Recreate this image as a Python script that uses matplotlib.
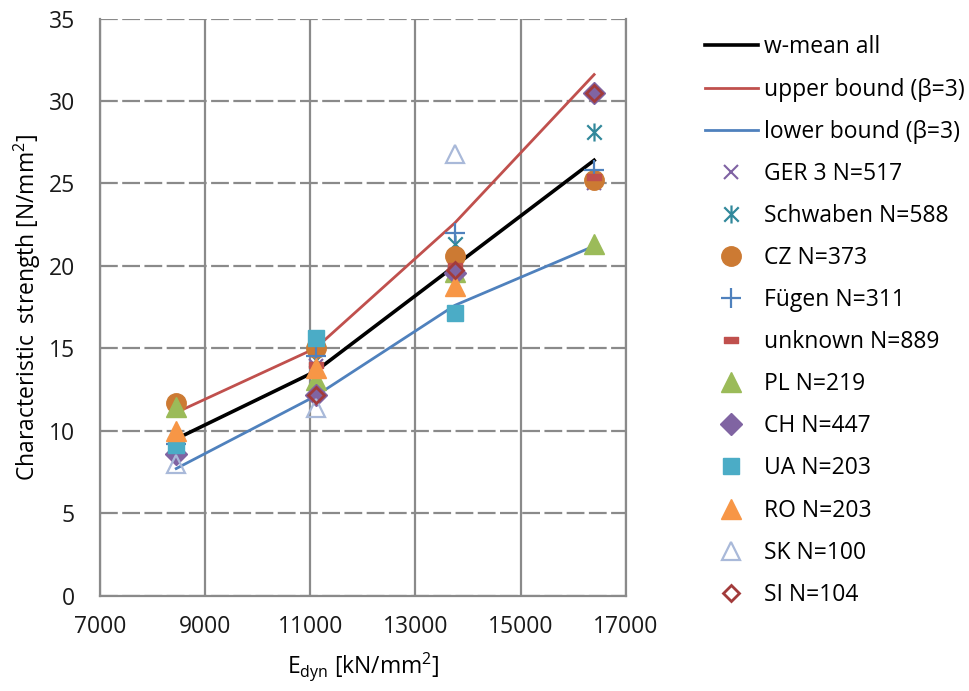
import numpy as np
import matplotlib
matplotlib.use("Agg")
import matplotlib.pyplot as plt
from matplotlib.path import Path

plt.rcParams['font.family'] = ['Open Sans', 'DejaVu Sans']
plt.rcParams['mathtext.default'] = 'regular'

# E_dyn grade centres
e_dyn = [8450, 11100, 13750, 16400]

# weighted mean and bounds
w_mean = [9.5, 13.6, 20.0, 26.4]
upper = [11.1, 15.0, 22.6, 31.6]
lower = [7.7, 12.1, 17.6, 21.2]

# per-sample characteristic strengths (nan = not present)
nan = np.nan
ger3 = [8.8, 13.9, 19.5, 25.0]
schwaben = [9.0, 14.3, 21.3, 28.1]
cz = [11.65, 15.0, 20.6, 25.2]
fuegen = [9.2, 14.5, 22.0, 25.8]
unknown = [9.3, 14.0, 20.0, 25.4]
pl = [11.45, 13.1, 19.6, 21.3]
ch = [8.6, 12.15, 19.55, 30.5]
ua = [9.1, 15.6, 17.15, nan]
ro = [10.0, 13.8, 18.8, nan]
sk = [8.0, 11.4, 26.8, nan]
si = [nan, 12.15, 19.75, 30.5]

# custom marker shapes
star_x = Path([(-1, -1), (1, 1), (-1, 1), (1, -1), (0, -1.25), (0, 1.25)],
              [Path.MOVETO, Path.LINETO, Path.MOVETO, Path.LINETO, Path.MOVETO, Path.LINETO])
dash_m = Path([(-1, -0.5), (1, -0.5), (1, 0.5), (-1, 0.5), (-1, -0.5)],
              [Path.MOVETO, Path.LINETO, Path.LINETO, Path.LINETO, Path.CLOSEPOLY])

fig = plt.figure(figsize=(9.69, 6.91), dpi=100)
ax = fig.add_axes([0.1032, 0.1382, 0.5425, 0.835])

ax.plot(e_dyn, w_mean, color='black', lw=2.6, label='w-mean all', zorder=3)
ax.plot(e_dyn, upper, color='#C0504D', lw=2.0, label='upper bound (β=3)', zorder=3)
ax.plot(e_dyn, lower, color='#4F81BD', lw=2.0, label='lower bound (β=3)', zorder=3)

ax.plot(e_dyn, ger3, ls='none', marker='x', ms=10, mew=1.5, color='#7F62A3', label='GER 3 N=517', zorder=4)
ax.plot(e_dyn, schwaben, ls='none', marker=star_x, ms=13, mew=1.6, color='#31889B', label='Schwaben N=588', zorder=4)
ax.plot(e_dyn, cz, ls='none', marker='o', ms=14, color='#CC7A33', label='CZ N=373', zorder=4)
ax.plot(e_dyn, fuegen, ls='none', marker='+', ms=14, mew=1.6, color='#4F81BD', label='Fügen N=311', zorder=4)
ax.plot(e_dyn, unknown, ls='none', marker=dash_m, ms=10, color='#C0504D', label='unknown N=889', zorder=4)
ax.plot(e_dyn, pl, ls='none', marker='^', ms=14, color='#9BBB59', label='PL N=219', zorder=4)
ax.plot(e_dyn, ch, ls='none', marker='D', ms=11, color='#8064A2', label='CH N=447', zorder=4)
ax.plot(e_dyn, ua, ls='none', marker='s', ms=12, color='#4BACC6', label='UA N=203', zorder=4)
ax.plot(e_dyn, ro, ls='none', marker='^', ms=14, color='#F79646', label='RO N=203', zorder=4)
ax.plot(e_dyn, sk, ls='none', marker='^', ms=13, mfc='none', mec='#A9B9D9', mew=1.6, label='SK N=100', zorder=4)
ax.plot(e_dyn, si, ls='none', marker='D', ms=8, mfc='none', mec='#A23B3B', mew=2.0, label='SI N=104', zorder=5)

ax.set_xlim(7000, 17000)
ax.set_ylim(0, 35)
ax.set_xticks(np.arange(7000, 17001, 2000))
ax.set_yticks(np.arange(0, 36, 5))
ax.tick_params(length=0, labelsize=16.5, colors='#1a1a1a')
ax.tick_params(axis='y', pad=18)
ax.tick_params(axis='x', pad=14)

ax.xaxis.grid(True, color='#8a8a8a', lw=1.6)
ax.yaxis.grid(True, color='#8a8a8a', lw=1.6, linestyle=(0, (8, 2)))
ax.set_axisbelow(True)
for s in ['left', 'bottom', 'right']:
    ax.spines[s].set_color('#8a8a8a')
    ax.spines[s].set_linewidth(1.6)
ax.spines['top'].set_visible(False)

ax.set_ylabel('Characteristic  strength [N/mm$^{2}$]', fontsize=16.5, labelpad=4)
ax.set_xlabel('E$_{dyn}$ [kN/mm$^{2}$]', fontsize=16.5, labelpad=8)

fig.legend(loc='upper left', bbox_to_anchor=(0.718, 0.962), frameon=False,
           fontsize=16.5, handlelength=2.3, handletextpad=0.3, labelspacing=0.79,
           borderaxespad=0)

fig.savefig('out.png', dpi=100)
